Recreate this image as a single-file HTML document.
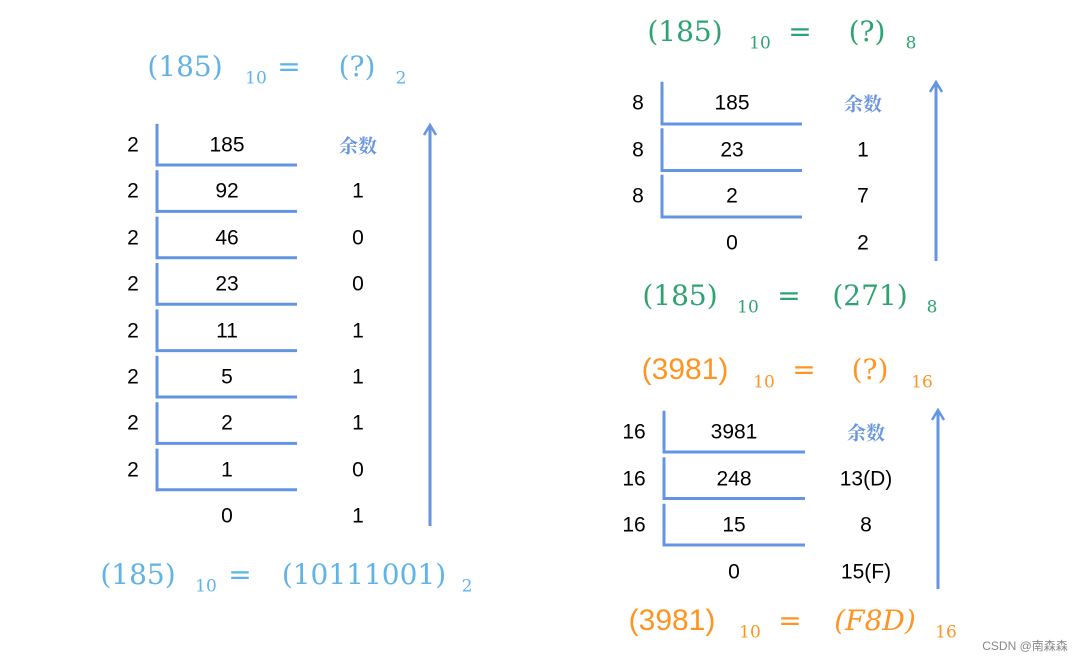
<!DOCTYPE html>
<html><head><meta charset="utf-8">
<style>
html,body{margin:0;padding:0;background:#fff;}
#root{position:relative;width:1090px;height:663px;overflow:hidden;font-family:"Liberation Sans","Noto Sans CJK SC",sans-serif;}
.t{position:absolute;white-space:nowrap;transform:translate(-50%,-50%);line-height:1;}
.m{font-family:"DejaVu Serif","Noto Serif CJK SC",serif;font-size:28px;}
.s{font-family:"DejaVu Serif",serif;font-size:17px;}
.n{font-size:21px;color:#000;}
.r{font-family:"Noto Serif CJK SC",serif;font-size:19px;color:#6a96e0;font-weight:bold;}
svg{position:absolute;left:0;top:0;}
</style></head>
<body><div id="root">
<svg id="lines" width="1090" height="663"></svg>
</div>
<script>
// Binary table data
const binDivisor = 2;
const binQuotients = [185, 92, 46, 23, 11, 5, 2, 1, 0];
const binRemainders = ["余数", "1", "0", "0", "1", "1", "1", "0", "1"];
// Octal table data
const octDivisor = 8;
const octQuotients = [185, 23, 2, 0];
const octRemainders = ["余数", "1", "7", "2"];
// Hex table data
const hexDivisor = 16;
const hexQuotients = [3981, 248, 15, 0];
const hexRemainders = ["余数", "13(D)", "8", "15(F)"];

const root = document.getElementById('root');
const svg = document.getElementById('lines');
const NS = 'http://www.w3.org/2000/svg';
const LINE = '#6495e3';

function txt(x, y, s, cls, color, name) {
  const d = document.createElement('div');
  d.className = 't ' + cls;
  d.style.left = x + 'px'; d.style.top = y + 'px';
  if (color) d.style.color = color;
  d.textContent = s;
  
  
  root.appendChild(d);
  return d;
}
function line(x1, y1, x2, y2, name) {
  const l = document.createElementNS(NS, 'line');
  l.setAttribute('x1', x1); l.setAttribute('y1', y1);
  l.setAttribute('x2', x2); l.setAttribute('y2', y2);
  l.setAttribute('stroke', LINE); l.setAttribute('stroke-width', 3);
  
  
  svg.appendChild(l);
}
function arrow(x, y1, y2, name) {
  line(x, y1, x, y2 + 2, name);
  const p = document.createElementNS(NS, 'polyline');
  p.setAttribute('points', (x - 6) + ',' + (y2 + 10) + ' ' + x + ',' + y2 + ' ' + (x + 6) + ',' + (y2 + 10));
  p.setAttribute('fill', 'none'); p.setAttribute('stroke', LINE); p.setAttribute('stroke-width', 2.5);
  
  
  svg.appendChild(p);
}
function table(cfg, divisor, quotients, remainders, prefix) {
  for (let i = 0; i < quotients.length; i++) {
    const y = cfg.y0 + i * cfg.dy;
    const last = i === quotients.length - 1;
    if (!last) {
      txt(cfg.xd, y, String(divisor), 'n', null, prefix + '-divisor');
      line(cfg.xb, y - cfg.dy / 2 + 2, cfg.xb, y + cfg.hOff + 1.5, prefix + '-bracket-v');
      line(cfg.xb - 1.5, y + cfg.hOff, cfg.xe, y + cfg.hOff, prefix + '-bracket-h');
    }
    txt(cfg.xq, y, String(quotients[i]), 'n', null, prefix + '-quotient');
    const r = remainders[i];
    txt(cfg.xr, y, r, r === '余数' ? 'r' : 'n', null, prefix + '-remainder');
  }
  arrow(cfg.ax, cfg.ay1, cfg.ay2, prefix + '-arrow');
}
table({y0:145, dy:46.4, xd:133, xb:157, xe:297, hOff:20, xq:227, xr:358, ax:430, ay1:526, ay2:125}, binDivisor, binQuotients, binRemainders, 'binary');
table({y0:103, dy:46.5, xd:638, xb:662, xe:802, hOff:21, xq:732, xr:863, ax:936, ay1:261, ay2:82}, octDivisor, octQuotients, octRemainders, 'octal');
table({y0:432, dy:46.5, xd:634, xb:664, xe:805, hOff:20, xq:734, xr:866, ax:938, ay1:589, ay2:410}, hexDivisor, hexQuotients, hexRemainders, 'hex');

// Equations
const BLUE = '#5fb3e6', GREEN = '#2ea372', ORANGE = '#ff9422';
function eq(parts, color, name) {
  parts.forEach(p => {
    const d = txt(p[0], p[1], p[2], p[3], color, name);
    if (p[4]) d.style.fontStyle = 'italic';
    if (p[5]) { d.style.fontFamily = '"Liberation Sans",sans-serif'; d.style.fontSize = '30px'; }
  });
}
eq([[185,67,'(185)','m'],[256,79,'10','s'],[289,67,'=','m'],[357,67,'(?)','m'],[401,79,'2','s']], BLUE, 'binary-question');
eq([[138,575,'(185)','m'],[206,587,'10','s'],[240,575,'=','m'],[364,575,'(10111001)','m'],[467,587,'2','s']], BLUE, 'binary-answer');
eq([[685,32,'(185)','m'],[760,44,'10','s'],[800,32,'=','m'],[867,32,'(?)','m'],[911,44,'8','s']], GREEN, 'octal-question');
eq([[680,296,'(185)','m'],[748,308,'10','s'],[789,296,'=','m'],[870,296,'(271)','m'],[932,308,'8','s']], GREEN, 'octal-answer');
eq([[685,370,'(3981)','m',false,true],[764,383,'10','s'],[804,370,'=','m'],[870,370,'(?)','m'],[922,383,'16','s']], ORANGE, 'hex-question');
eq([[672,621,'(3981)','m',false,true],[750,633,'10','s'],[790,621,'=','m'],[875,621,'(F8D)','m',true],[946,633,'16','s']], ORANGE, 'hex-answer');

const w = txt(1025, 646, 'CSDN @南森森', '', '#888', 'watermark');
w.style.fontSize = '12px';
</script>
</body></html>
